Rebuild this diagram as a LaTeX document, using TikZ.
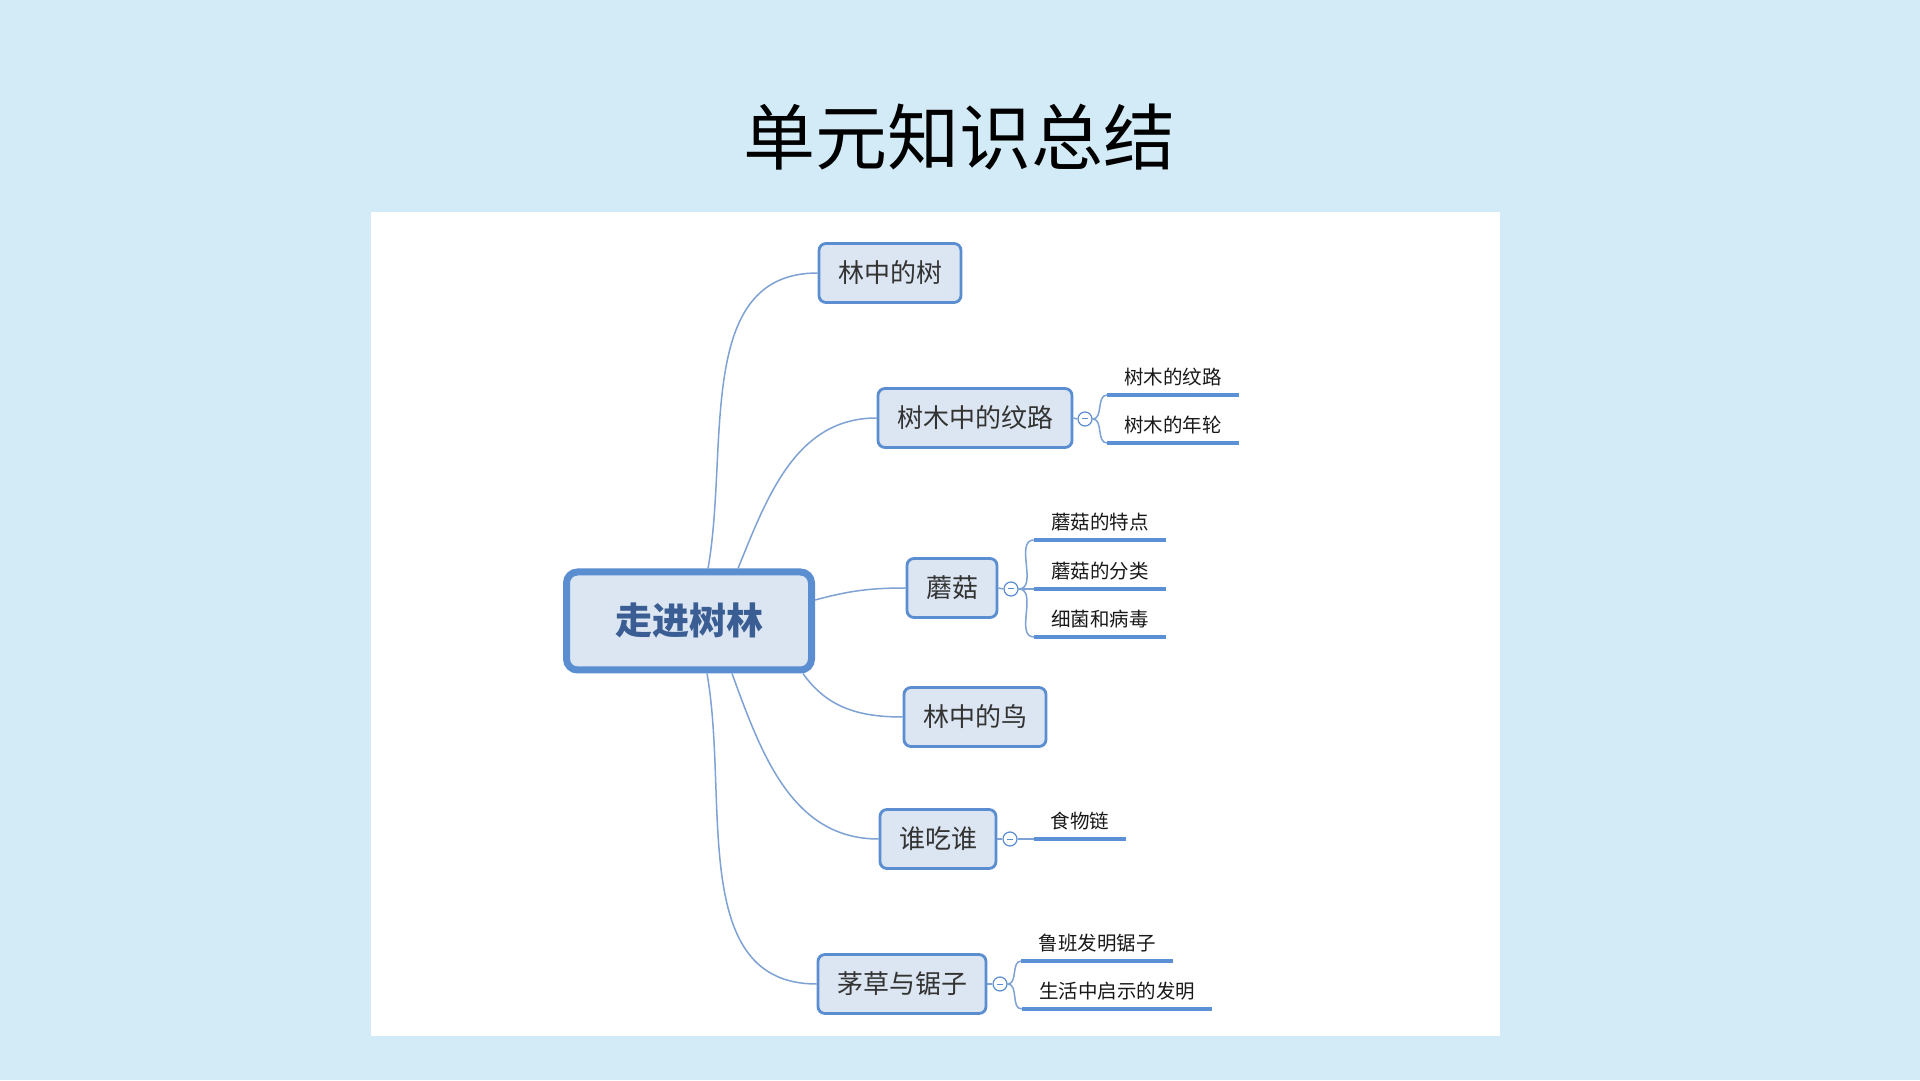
\documentclass[tikz,border=0pt]{standalone}
\usepackage{fontspec}
\setmainfont{Noto Sans CJK SC}
\definecolor{bgblue}{HTML}{D3EBF7}
\definecolor{nodeblue}{HTML}{5A8ED0}
\definecolor{nodefill}{HTML}{DCE6F2}
\definecolor{linecol}{HTML}{7EA2D4}
\definecolor{underblue}{HTML}{5B8FD6}
\definecolor{roottext}{HTML}{3A5E93}
\definecolor{topictext}{HTML}{333333}
\tikzstyle{topic}=[draw=nodeblue, fill=nodefill, line width=2.8pt, rounded corners=7pt, inner xsep=19pt, minimum height=59pt, font=\fontsize{26}{30}\selectfont, text=topictext]
\tikzstyle{root}=[topic, line width=7pt, rounded corners=11pt, minimum width=245pt, minimum height=98pt, font=\fontsize{37}{40}\selectfont\bfseries, text=roottext]
\tikzstyle{leaf}=[anchor=south, inner xsep=17pt, inner ysep=9pt, font=\fontsize{19.5}{22}\selectfont, text=black!90]
\tikzstyle{fold}=[circle, draw=nodeblue, fill=white, line width=1.2pt, minimum size=14pt, inner sep=0pt, path picture={\draw[nodeblue, line width=1pt] ([xshift=-3pt]path picture bounding box.center) -- ([xshift=3pt]path picture bounding box.center);}]
\tikzstyle{branch}=[linecol, line width=1.5pt]
\tikzstyle{leafline}=[underblue, line width=4pt]

\begin{document}
\begin{tikzpicture}[x=1pt, y=1pt]
	\fill[bgblue] (0,0) rectangle (1920,1080);
	\useasboundingbox (0,0) rectangle (1920,1080);
	\fill[white] (371,44) rectangle (1500,868);

	\node (title) at (959,943) {\fontsize{72}{80}\selectfont 单元知识总结};

	\node[root] (root) at (689,459) {走进树林};

	\node[topic] (trees) at (890,807) {林中的树};
	\node[topic] (grain) at (975,662) {树木中的纹路};
	\node[topic] (mush) at (952,492) {蘑菇};
	\node[topic] (birds) at (975,363) {林中的鸟};
	\node[topic] (eats) at (938,241) {谁吃谁};
	\node[topic] (saw) at (902,96) {茅草与锯子};

	\draw[branch] ([xshift=145pt]root.north west) to[out=80, in=180] (trees.west);
	\draw[branch] ([xshift=175pt]root.north west) to[out=68, in=180] (grain.west);
	\draw[branch] ([yshift=21pt]root.east) to[out=15, in=180] (mush.west);
	\draw[branch] ([xshift=-12pt]root.south east) to[out=-55, in=180] (birds.west);
	\draw[branch] ([xshift=169pt]root.south west) to[out=-70, in=180] (eats.west);
	\draw[branch] ([xshift=144pt]root.south west) to[out=-80, in=180] (saw.west);

	% folds
	\node[fold] (fgrain) at (1085,661) {};
	\node[fold] (fmush) at (1011,491) {};
	\node[fold] (feats) at (1010,241) {};
	\node[fold] (fsaw) at (1000,96) {};

	\draw[branch] (grain.east) -- (fgrain.west);
	\draw[branch] (mush.east) -- (fmush.west);
	\draw[branch] (eats.east) -- (feats.west);
	\draw[branch] (saw.east) -- (fsaw.west);

	% leaves
	\node[leaf] (grain1) at (1173,685) {树木的纹路};
	\node[leaf] (grain2) at (1173,637) {树木的年轮};
	\node[leaf] (mush1) at (1100,540) {蘑菇的特点};
	\node[leaf] (mush2) at (1100,491) {蘑菇的分类};
	\node[leaf] (mush3) at (1100,443) {细菌和病毒};
	\node[leaf] (eats1) at (1080,241) {食物链};
	\node[leaf] (saw1) at (1097,119) {鲁班发明锯子};
	\node[leaf] (saw2) at (1117,71) {生活中启示的发明};

	\foreach \l in {grain1,grain2,mush1,mush2,mush3,eats1,saw1,saw2}
		\draw[leafline] (\l.south west) -- (\l.south east);

	\draw[branch] (fgrain.east) to[out=0, in=180] (grain1.south west);
	\draw[branch] (fgrain.east) to[out=0, in=180] (grain2.south west);
	\draw[branch] (fmush.east) to[out=0, in=180] (mush1.south west);
	\draw[branch] (fmush.east) -- (mush2.south west);
	\draw[branch] (fmush.east) to[out=0, in=180] (mush3.south west);
	\draw[branch] (feats.east) -- (eats1.south west);
	\draw[branch] (fsaw.east) to[out=0, in=180] (saw1.south west);
	\draw[branch] (fsaw.east) to[out=0, in=180] (saw2.south west);
\end{tikzpicture}
\end{document}
